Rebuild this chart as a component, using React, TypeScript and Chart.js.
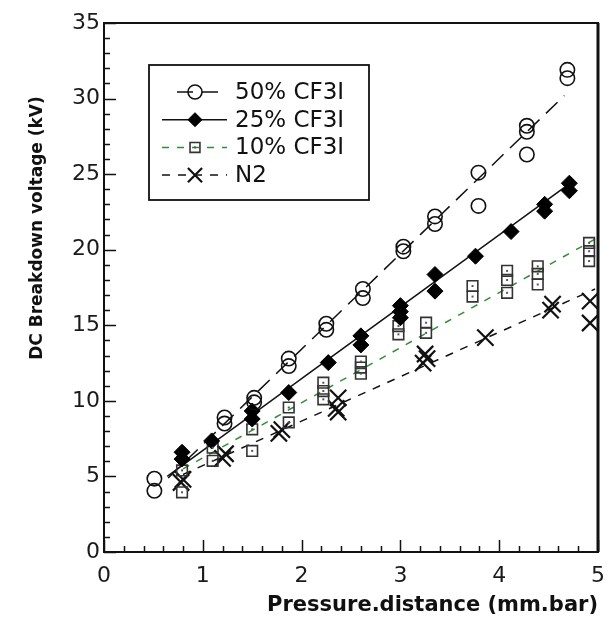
import React, { useEffect, useRef } from 'react';
import { Chart, registerables } from 'chart.js';
import { drawPoint } from 'chart.js/helpers';

Chart.register(...registerables);

// ---- data ----
const seriesNames = ['50% CF3I', '25% CF3I', '10% CF3I', 'N2'];

const x50 = [0.51, 0.51, 1.22, 1.22, 1.52, 1.52, 1.87, 1.87, 2.25, 2.25, 2.62, 2.62, 3.03, 3.03, 3.35, 3.35, 3.79, 3.79, 4.28, 4.28, 4.28, 4.69, 4.69];
const y50 = [4.85, 4.05, 8.9, 8.5, 10.2, 9.9, 12.8, 12.3, 15.1, 14.7, 17.4, 16.8, 20.2, 19.9, 22.2, 21.7, 25.1, 22.9, 28.2, 27.8, 26.3, 31.9, 31.35];

const x25 = [0.79, 0.79, 1.09, 1.5, 1.5, 1.87, 2.27, 2.6, 2.6, 3.0, 3.0, 3.0, 3.35, 3.35, 3.76, 4.12, 4.46, 4.46, 4.71, 4.71];
const y25 = [6.6, 6.15, 7.35, 9.33, 8.8, 10.55, 12.53, 14.3, 13.7, 16.3, 15.9, 15.5, 18.36, 17.26, 19.57, 21.2, 23.0, 22.55, 24.4, 23.9];

const x10 = [0.79, 0.79, 1.1, 1.1, 1.5, 1.5, 1.87, 1.87, 2.22, 2.22, 2.22, 2.6, 2.6, 2.6, 2.98, 2.98, 3.26, 3.26, 3.73, 3.73, 4.08, 4.08, 4.08, 4.39, 4.39, 4.39, 4.91, 4.91, 4.91];
const y10 = [5.4, 3.95, 6.9, 6.03, 8.12, 6.69, 9.56, 8.57, 11.2, 10.65, 10.1, 12.6, 12.2, 11.8, 14.95, 14.4, 15.17, 14.5, 17.6, 16.9, 18.6, 18.0, 17.15, 18.9, 18.4, 17.7, 20.45, 19.9, 19.25];

const xN2 = [0.78, 0.8, 1.2, 1.23, 1.77, 1.8, 2.37, 2.37, 2.35, 3.23, 3.25, 3.27, 3.86, 4.52, 4.54, 4.92, 4.92];
const yN2 = [4.6, 4.8, 6.2, 6.5, 7.85, 8.1, 10.2, 9.25, 9.5, 12.5, 13.1, 12.8, 14.18, 16.0, 16.4, 16.6, 15.15];

// linear fit lines (end points)
const fit50X = [0.65, 4.66];
const fit50Y = [4.9, 30.2];
const fit25X = [0.64, 4.72];
const fit25Y = [5.0, 24.4];
const fit10X = [0.8, 4.97];
const fit10Y = [5.5, 20.7];
const fitN2X = [0.8, 4.97];
const fitN2Y = [5.13, 17.4];

const xTickValues = [0, 1, 2, 3, 4, 5];
const yTickValues = [0, 5, 10, 15, 20, 25, 30, 35];

const xTitle = 'Pressure.distance (mm.bar)';
const yTitle = 'DC Breakdown voltage (kV)';

// ---- styles ----
const FONT = 'DejaVu Sans';
const GREEN = '#2f8f35';
const INK = '#111111';

const pts = (xs: number[], ys: number[]) => xs.map((v, i) => ({ x: v, y: ys[i] }));

const markerStyles = [
  { pointStyle: 'circle', radius: 7.2, borderWidth: 1.6, border: INK, fill: 'rgba(0,0,0,0)' },
  { pointStyle: 'rectRot', radius: 8, borderWidth: 1, border: '#000', fill: '#000' },
  { pointStyle: 'rect', radius: 7.5, borderWidth: 1.6, border: '#333', fill: 'rgba(0,0,0,0)' },
  { pointStyle: 'crossRot', radius: 11.5, borderWidth: 2.2, border: INK, fill: 'rgba(0,0,0,0)' },
];
const lineStyles = [
  { color: INK, dash: [16, 9] },
  { color: INK, dash: [] as number[] },
  { color: GREEN, dash: [7, 8] },
  { color: INK, dash: [8, 8] },
];

const decorPlugin = {
  id: 'decor',
  afterDatasetsDraw(chart: any) {
    const { ctx, chartArea: a, scales } = chart;
    const xs = scales.x;
    const ys = scales.y;
    ctx.save();
    // inward tick marks
    ctx.strokeStyle = INK;
    ctx.lineWidth = 1.5;
    ctx.beginPath();
    for (let v = 0; v <= 35.001; v += 1) {
      const py = Math.round(ys.getPixelForValue(v)) + 0.5;
      const len = Math.abs(v % 5) < 0.001 ? 12 : 6;
      ctx.moveTo(a.left, py);
      ctx.lineTo(a.left + len, py);
    }
    for (let i = 0; i <= 25; i++) {
      const v = i * 0.2;
      const px = Math.round(xs.getPixelForValue(v)) + 0.5;
      const len = i % 5 === 0 ? 12 : 6;
      ctx.moveTo(px, a.bottom);
      ctx.lineTo(px, a.bottom - len);
    }
    ctx.stroke();
    // frame
    ctx.lineWidth = 2;
    ctx.strokeStyle = INK;
    ctx.strokeRect(a.left, a.top, a.right - a.left, a.bottom - a.top);
    ctx.lineWidth = 3;
    ctx.beginPath();
    ctx.moveTo(a.right, a.top);
    ctx.lineTo(a.right, a.bottom);
    ctx.stroke();

    // legend box
    const lx = a.left + 45;
    const ly = a.top + 42;
    const lw = 220;
    const lh = 135;
    ctx.lineWidth = 1.8;
    ctx.strokeRect(lx, ly, lw, lh);
    const rowY0 = ly + 27;
    const rowStep = 27.7;
    seriesNames.forEach((name, i) => {
      const yy = rowY0 + i * rowStep;
      const ls = lineStyles[i];
      ctx.save();
      ctx.strokeStyle = ls.color;
      ctx.lineWidth = 1.5;
      ctx.setLineDash(ls.dash);
      ctx.beginPath();
      const x0 = i === 0 ? lx + 28 : lx + 13;
      ctx.moveTo(x0, yy);
      ctx.lineTo(lx + 78, yy);
      ctx.stroke();
      ctx.restore();
      const ms = markerStyles[i];
      ctx.save();
      ctx.strokeStyle = ms.border;
      ctx.fillStyle = ms.fill;
      ctx.lineWidth = ms.borderWidth;
      drawPoint(ctx, { pointStyle: ms.pointStyle, radius: i === 3 ? 10 : 7, borderWidth: ms.borderWidth, rotation: 0 }, lx + 46, yy);
      if (i === 2) {
        ctx.fillStyle = '#555';
        ctx.fillRect(lx + 45, yy - 1, 2, 2);
      }
      ctx.restore();
      ctx.fillStyle = INK;
      ctx.font = `23px "${FONT}"`;
      ctx.textAlign = 'left';
      ctx.textBaseline = 'middle';
      ctx.fillText(name, lx + 86, yy + 1);
    });

    // y-axis title
    ctx.save();
    ctx.translate(38, 228);
    ctx.rotate(-Math.PI / 2);
    ctx.font = `bold 17px "${FONT}"`;
    ctx.fillStyle = INK;
    ctx.textAlign = 'center';
    ctx.textBaseline = 'middle';
    ctx.fillText(yTitle, 0, 0);
    ctx.restore();

    ctx.restore();
  },
};

export default function App() {
  const ref = useRef<HTMLCanvasElement | null>(null);

  useEffect(() => {
    const canvas = ref.current;
    if (!canvas) return;

    const scatter = (label: string, xs: number[], ys: number[], i: number) => {
      const m = markerStyles[i];
      return {
        type: 'scatter' as const,
        label,
        data: pts(xs, ys),
        showLine: false,
        pointStyle: m.pointStyle,
        pointRadius: m.radius,
        pointHoverRadius: m.radius,
        pointBorderWidth: m.borderWidth,
        pointBorderColor: m.border,
        pointBackgroundColor: m.fill,
        order: 1,
      };
    };
    const fit = (label: string, xs: number[], ys: number[], i: number) => {
      const ls = lineStyles[i];
      return {
        type: 'line' as const,
        label,
        data: pts(xs, ys),
        showLine: true,
        borderColor: ls.color,
        borderWidth: 1.5,
        borderDash: ls.dash,
        pointRadius: 0,
        pointHoverRadius: 0,
        fill: false,
        order: 2,
      };
    };

    const chart = new Chart(canvas, {
      type: 'scatter',
      data: {
        datasets: [
          scatter(seriesNames[0], x50, y50, 0),
          scatter(seriesNames[1], x25, y25, 1),
          scatter(seriesNames[2], x10, y10, 2),
          {
            type: 'scatter',
            label: '10% dots',
            data: pts(x10, y10),
            showLine: false,
            pointStyle: 'rect',
            pointRadius: 1.4,
            pointHoverRadius: 1.4,
            pointBorderWidth: 0,
            pointBackgroundColor: '#555',
            order: 0,
          },
          scatter(seriesNames[3], xN2, yN2, 3),
          fit('fit 50', fit50X, fit50Y, 0),
          fit('fit 25', fit25X, fit25Y, 1),
          fit('fit 10', fit10X, fit10Y, 2),
          fit('fit N2', fitN2X, fitN2Y, 3),
        ] as any,
      },
      options: {
        animation: false,
        responsive: false,
        layout: { padding: { top: 23, right: 10, left: 0, bottom: 0 } },
        plugins: {
          legend: { display: false },
          tooltip: { enabled: false },
        },
        scales: {
          x: {
            type: 'linear',
            min: 0,
            max: 5,
            afterFit: (s: any) => {
              s.height = 72;
            },
            afterBuildTicks: (s: any) => {
              s.ticks = xTickValues.map((v) => ({ value: v }));
            },
            grid: { display: false, drawTicks: false },
            border: { display: false },
            ticks: {
              font: { family: FONT, size: 22 },
              color: '#1a1a1a',
              padding: 11,
              maxRotation: 0,
              callback: (v: any) => String(v),
            },
            title: {
              display: true,
              text: xTitle,
              align: 'end',
              color: INK,
              font: { family: FONT, size: 21, weight: 'bold' },
              padding: { top: 0, bottom: 6 },
            },
          },
          y: {
            type: 'linear',
            min: 0,
            max: 35,
            afterFit: (s: any) => {
              s.width = 104;
            },
            afterBuildTicks: (s: any) => {
              s.ticks = yTickValues.map((v) => ({ value: v }));
            },
            grid: { display: false, drawTicks: false },
            border: { display: false },
            ticks: {
              font: { family: FONT, size: 22 },
              color: '#1a1a1a',
              padding: 4,
              callback: (v: any) => String(v),
            },
          },
        },
      } as any,
      plugins: [decorPlugin],
    });

    return () => chart.destroy();
  }, []);

  return (
    <div style={{ position: 'absolute', left: 0, top: 0, width: 616, height: 624, background: '#fff' }}>
      <canvas ref={ref} width={616} height={624} style={{ display: 'block' }} />
    </div>
  );
}
